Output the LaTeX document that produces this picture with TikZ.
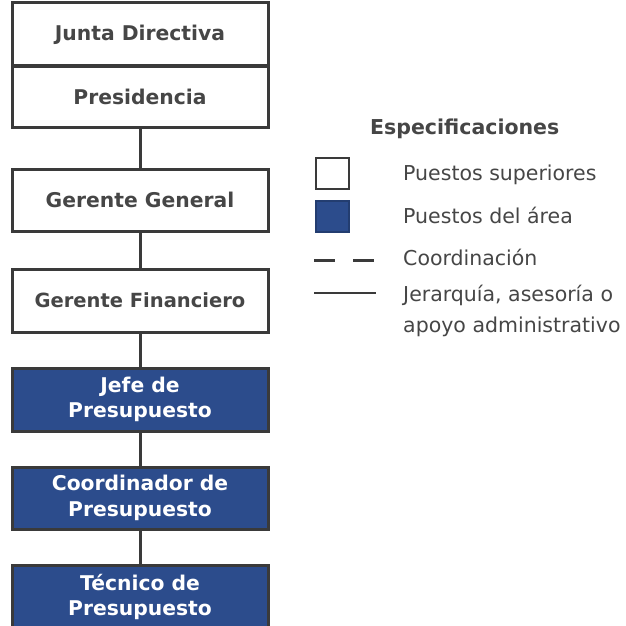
\documentclass[tikz,border=0pt]{standalone}
\usepackage{fontspec}
\setmainfont{DejaVu Sans}
\definecolor{areablue}{RGB}{44,76,140}
\definecolor{linegray}{RGB}{58,58,58}
\definecolor{textgray}{RGB}{70,70,70}
\begin{document}
\begin{tikzpicture}[x=1pt,y=-1pt,
  box/.style={draw=linegray,line width=3pt,rectangle,minimum width=256pt,inner sep=0pt,align=center,
    font=\fontsize{20.3}{25.5}\selectfont\bfseries},
  topbox/.style={box,fill=white,text=textgray},
  areabox/.style={box,fill=areablue,text=white},
  conn/.style={draw=linegray,line width=3pt},
  legtext/.style={anchor=west,inner sep=0pt,text=textgray,font=\fontsize{20.5}{31}\selectfont,align=left},
  legsq/.style={draw=linegray,line width=2pt,minimum width=33pt,minimum height=31pt,inner sep=0pt}
]
\useasboundingbox (0,0) rectangle (626,626);
% chart
\node[topbox,minimum height=63pt] (junta) at (140,34.5) {Junta Directiva};
\node[topbox,minimum height=61pt] (pres) at (140,96.5) {Presidencia};
\node[topbox,minimum height=62pt] (gg) at (140,200) {Gerente General};
\node[topbox,minimum height=63pt,font=\fontsize{19.5}{25}\selectfont\bfseries] (gf) at (140,300.5) {Gerente Financiero};
\node[areabox,minimum height=63pt] (jefe) at (140,399.5) {Jefe de\\Presupuesto};
\node[areabox,minimum height=62pt] (coord) at (140,498) {Coordinador de\\Presupuesto};
\node[areabox,minimum height=64pt] (tec) at (140,597) {Técnico de\\Presupuesto};
\draw[conn] (pres.south) -- (gg.north);
\draw[conn] (gg.south) -- (gf.north);
\draw[conn] (gf.south) -- (jefe.north);
\draw[conn] (jefe.south) -- (coord.north);
\draw[conn] (coord.south) -- (tec.north);
% legend
\node[anchor=west,inner sep=0pt,text=textgray,font=\fontsize{20.5}{24}\selectfont\bfseries] (esp) at (370,129) {Especificaciones};
\node[legsq,fill=white] (sqw) at (332.5,173.5) {};
\node[legsq,fill=areablue,draw=areablue!80!black] (sqb) at (332.5,216.5) {};
\node[legtext] (t1) at (403,175) {Puestos superiores};
\node[legtext] (t2) at (403,215) {Puestos del área};
\node[legtext] (t3) at (403,257) {Coordinación};
\node[legtext] (t4) at (403,311) {Jerarquía, asesoría o\\apoyo administrativo};
\coordinate (d1) at (314,260);
\coordinate (d2) at (376,260);
\coordinate (s1) at (314,293);
\coordinate (s2) at (376,293);
\draw[draw=linegray,line width=3pt,dash pattern=on 21pt off 18pt] (d1) -- (d2);
\draw[draw=linegray,line width=2.6pt] (s1) -- (s2);
\end{tikzpicture}
\end{document}
